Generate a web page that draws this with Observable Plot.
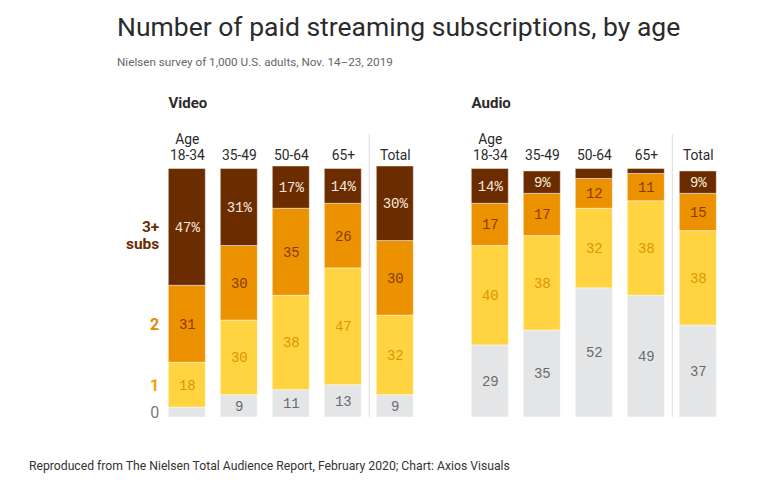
<!DOCTYPE html>
<html><head><meta charset="utf-8">
<script src="https://cdn.jsdelivr.net/npm/d3@7"></script>
<script src="https://cdn.jsdelivr.net/npm/@observablehq/plot@0.6"></script>
<style>
body{margin:0;background:#fff;font-family:Roboto,"Liberation Sans",sans-serif;}
#wrap{position:relative;width:763px;height:484px;overflow:hidden;}
#title{position:absolute;left:117px;top:11px;font-size:26.5px;line-height:32px;color:#2b2b2b;letter-spacing:0px;white-space:nowrap;}
#sub{position:absolute;left:117px;top:54px;font-size:11.7px;line-height:16px;color:#666;white-space:nowrap;}
#chart{position:absolute;left:0;top:80px;}
#cap{position:absolute;left:29px;top:458px;font-size:12.2px;line-height:16px;color:#333;white-space:nowrap;}
</style></head><body>
<div id="wrap">
<div id="title">Number of paid streaming subscriptions, by age</div>
<div id="sub">Nielsen survey of 1,000 U.S. adults, Nov. 14–23, 2019</div>
<div id="chart"></div>
<div id="cap">Reproduced from The Nielsen Total Audience Report, February 2020; Chart: Axios Visuals</div>
</div>
<script>
const media = ["Video", "Audio"];
const ages = ["18-34", "35-49", "50-64", "65+", "Total"];
const ageLabels = ["Age\n18-34", "35-49", "50-64", "65+", "Total"];
const cats = ["0", "1", "2", "3+"];
const catLabels = ["0", "1", "2", "3+\nsubs"];
const video0 = [4, 9, 11, 13, 9];
const video1 = [18, 30, 38, 47, 32];
const video2 = [31, 30, 35, 26, 30];
const video3 = [47, 31, 17, 14, 30];
const audio0 = [29, 35, 52, 49, 37];
const audio1 = [40, 38, 32, 38, 38];
const audio2 = [17, 17, 12, 11, 15];
const audio3 = [14, 9, 4, 2, 9];

const series = {Video: [video0, video1, video2, video3], Audio: [audio0, audio1, audio2, audio3]};
const data = [];
for (const m of media) ages.forEach((a, i) => cats.forEach((c, j) => data.push({medium: m, age: a, cat: c, value: series[m][j][i]})));

const fillColors = ["#e4e5e7", "#ffd440", "#ec9200", "#6b2c00"];
const textColors = ["#6b6b6b", "#e09500", "#8a3a00", "#f6e9dc"];
const leftColors = ["#7a7a7a", "#f0a400", "#e08a00", "#6b2c00"];
const mono = "'Liberation Mono','DejaVu Sans Mono',monospace";

const valueTexts = cats.map((c, j) => Plot.text(data, Plot.stackY({
  fx: "medium", x: "age", y: "value",
  text: d => d.cat === c && d.value >= 8 ? (c === "3+" ? d.value + "%" : String(d.value)) : "",
  fill: textColors[j], fontFamily: mono, fontSize: 14
})));
const leftTexts = cats.map((c, j) => Plot.text(data, Plot.stackY({
  fx: "medium", x: "age", y: "value",
  text: d => d.medium === "Video" && d.age === "18-34" && d.cat === c ? catLabels[j] : "",
  fill: leftColors[j], textAnchor: "end", dx: -28, dy: c === "3+" ? 8 : 0,
  fontSize: c === "3+" ? 15.5 : 16, fontWeight: c === "0" ? "normal" : "bold", lineHeight: 1.1
})));
const pairs = media.flatMap(m => ages.map((a, i) => ({m, a, label: ageLabels[i]})));

const chart = Plot.plot({
  width: 763, height: 357,
  marginLeft: 151.7, marginRight: 30.5, marginTop: 86, marginBottom: 20,
  style: {fontFamily: "Roboto, 'Liberation Sans', sans-serif", background: "white"},
  fx: {domain: media, paddingInner: 0.085, paddingOuter: 0, axis: null},
  x: {domain: ages, padding: 0.286, axis: null},
  y: {domain: [0, 101], axis: null},
  color: {domain: cats, range: fillColors},
  marks: [
    Plot.barY(data, Plot.stackY({fx: "medium", x: "age", y: "value", fill: "cat", stroke: "#fff", strokeOpacity: 0.45, strokeWidth: 1})),
    ...valueTexts,
    ...leftTexts,
    Plot.ruleX(media, {fx: d => d, x: () => "Total", y1: 0, y2: 114, dx: -26, stroke: "#dcdcdc", strokeWidth: 1}),
    Plot.text(media, {fx: d => d, x: () => "18-34", frameAnchor: "top", lineAnchor: "middle", dy: -63, dx: -18.75, textAnchor: "start", text: d => d, fontWeight: "bold", fontSize: 15, fill: "#2b2b2b"}),
    Plot.text(pairs, {fx: "m", x: "a", frameAnchor: "top", lineAnchor: "bottom", dy: -7, text: "label", fontSize: 13.8, lineHeight: 1.12, fill: "#2b2b2b"})
  ]
});
document.getElementById("chart").appendChild(chart);
</script>
</body></html>
